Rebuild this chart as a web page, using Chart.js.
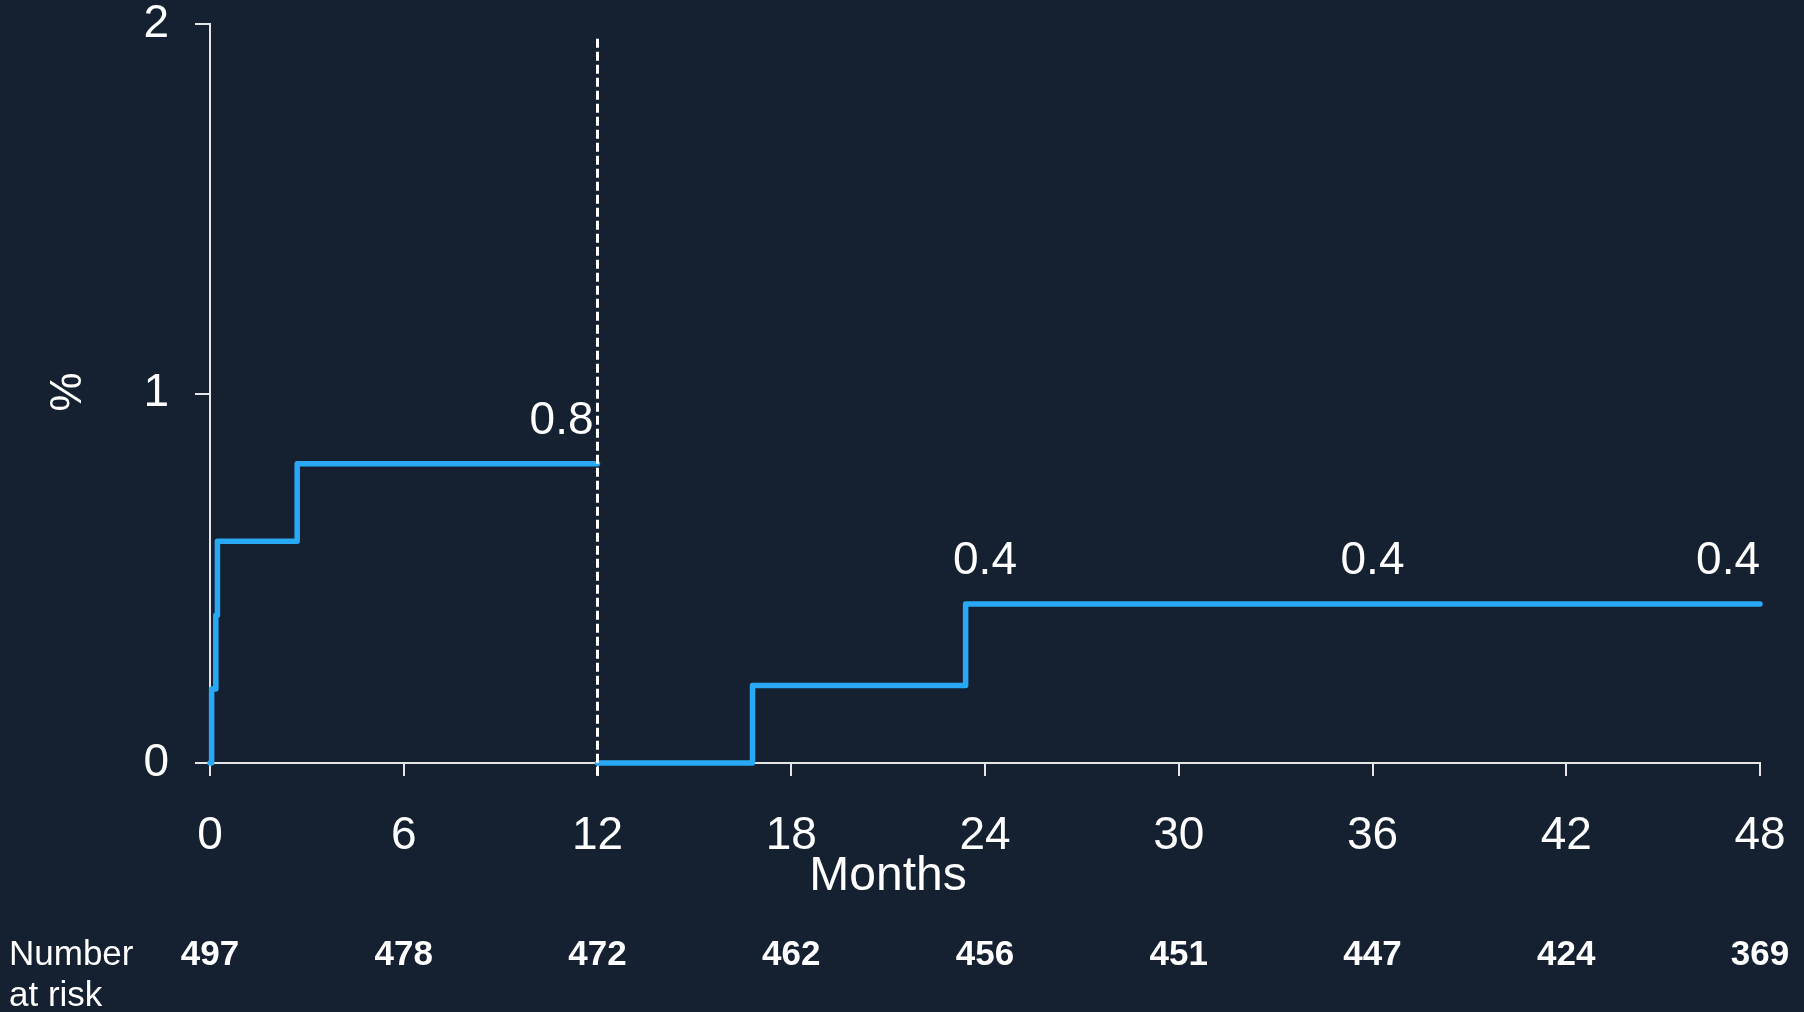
<!DOCTYPE html>
<html><head><meta charset="utf-8">
<script src="https://cdn.jsdelivr.net/npm/chart.js@4"></script>
<style>html,body{margin:0;padding:0;background:#152030;overflow:hidden}canvas{display:block}</style>
</head><body>
<canvas id="c" width="1804" height="1012"></canvas>
<script>
const monthTicks = [0, 6, 12, 18, 24, 30, 36, 42, 48];
const rateTicks = [0, 1, 2];
const firstYearTimes = [0, 0.05, 0.18, 0.23, 2.7, 12];
const firstYearRates = [0, 0.2, 0.4, 0.6, 0.81, 0.81];
const afterLandmarkTimes = [12, 16.8, 23.4, 48];
const afterLandmarkRates = [0, 0.21, 0.43, 0.43];
const landmarkMonth = 12;
const landmarkRange = [1.96, -0.04];
const labelMonths = [12, 24, 36, 48];
const labelRates = [0.81, 0.43, 0.43, 0.43];
const labelTexts = ['0.8', '0.4', '0.4', '0.4'];
const labelAligns = ['right', 'center', 'center', 'right'];
const riskMonths = [0, 6, 12, 18, 24, 30, 36, 42, 48];
const numberAtRisk = [497, 478, 472, 462, 456, 451, 447, 424, 369];
const xTitle = 'Months';
const yTitle = '%';
const riskTitle = ['Number', 'at risk'];

const BG = '#152030';
const LINE = '#29a9f5';
const AXIS = '#e6e6e6';
const FONT = '"Liberation Sans", Arial, sans-serif';

const toPts = (xs, ys) => xs.map((x, i) => ({x: x, y: ys[i]}));

const bgPlugin = {
  id: 'bg',
  beforeDraw(chart) {
    const c = chart.ctx;
    c.save(); c.fillStyle = BG; c.fillRect(0, 0, chart.width, chart.height); c.restore();
  }
};

const textPlugin = {
  id: 'texts',
  afterDraw(chart) {
    const c = chart.ctx, xs = chart.scales.x, ys = chart.scales.y;
    c.save();
    c.fillStyle = '#ffffff';
    c.textBaseline = 'alphabetic';
    c.font = '46px ' + FONT;
    labelTexts.forEach((t, i) => {
      c.textAlign = labelAligns[i];
      let px = xs.getPixelForValue(labelMonths[i]);
      if (i === 0) px -= 4;
      c.fillText(t, px, ys.getPixelForValue(labelRates[i]) - 30);
    });
    c.font = '48px ' + FONT;
    c.textAlign = 'center';
    c.fillText(xTitle, 888, 890);
    c.save();
    c.translate(69, 392);
    c.rotate(-Math.PI / 2);
    c.font = '44px ' + FONT;
    c.textBaseline = 'middle';
    c.fillText(yTitle, 0, 0);
    c.restore();
    c.textAlign = 'left';
    c.font = '35px ' + FONT;
    c.fillText(riskTitle[0], 9, 965);
    c.fillText(riskTitle[1], 9, 1006);
    c.font = 'bold 35px ' + FONT;
    c.textAlign = 'center';
    numberAtRisk.forEach((n, i) => {
      c.fillText(String(n), xs.getPixelForValue(riskMonths[i]), 965);
    });
    c.restore();
  }
};

const noPad = s => { s.paddingTop = 0; s.paddingBottom = 0; s.paddingLeft = 0; s.paddingRight = 0; };

new Chart(document.getElementById('c'), {
  type: 'line',
  data: {
    datasets: [
      {
        data: toPts([landmarkMonth, landmarkMonth], landmarkRange),
        borderColor: '#ffffff', borderWidth: 3, borderDash: [9, 4],
        pointRadius: 0, clip: false, fill: false
      },
      {
        data: toPts(firstYearTimes, firstYearRates),
        borderColor: LINE, borderWidth: 5.5, stepped: 'before',
        borderJoinStyle: 'round', borderCapStyle: 'round',
        pointRadius: 0, clip: false, fill: false
      },
      {
        data: toPts(afterLandmarkTimes, afterLandmarkRates),
        borderColor: LINE, borderWidth: 5.5, stepped: 'before',
        borderJoinStyle: 'round', borderCapStyle: 'round',
        pointRadius: 0, clip: false, fill: false
      }
    ]
  },
  options: {
    responsive: false,
    animation: false,
    devicePixelRatio: 1,
    layout: {padding: {left: 0, top: 24, right: 44, bottom: 0}},
    plugins: {legend: {display: false}, tooltip: {enabled: false}},
    scales: {
      x: {
        type: 'linear', min: 0, max: 48,
        afterBuildTicks: s => { s.ticks = monthTicks.map(v => ({value: v})); },
        afterFit: s => { s.height = 249; noPad(s); },
        border: {display: true, color: AXIS, width: 2},
        grid: {display: true, drawOnChartArea: false, drawTicks: true, tickLength: 13, color: AXIS, lineWidth: 2},
        ticks: {color: '#ffffff', font: {family: FONT, size: 46, lineHeight: 1}, padding: 37, maxRotation: 0, autoSkip: false}
      },
      y: {
        type: 'linear', min: 0, max: 2,
        afterBuildTicks: s => { s.ticks = rateTicks.map(v => ({value: v})); },
        afterFit: s => { s.width = 210; noPad(s); },
        border: {display: true, color: AXIS, width: 2},
        grid: {display: true, drawOnChartArea: false, drawTicks: true, tickLength: 15, color: AXIS, lineWidth: 2},
        ticks: {color: '#ffffff', font: {family: FONT, size: 46, lineHeight: 1}, padding: 26}
      }
    }
  },
  plugins: [bgPlugin, textPlugin]
});
</script>
</body></html>
